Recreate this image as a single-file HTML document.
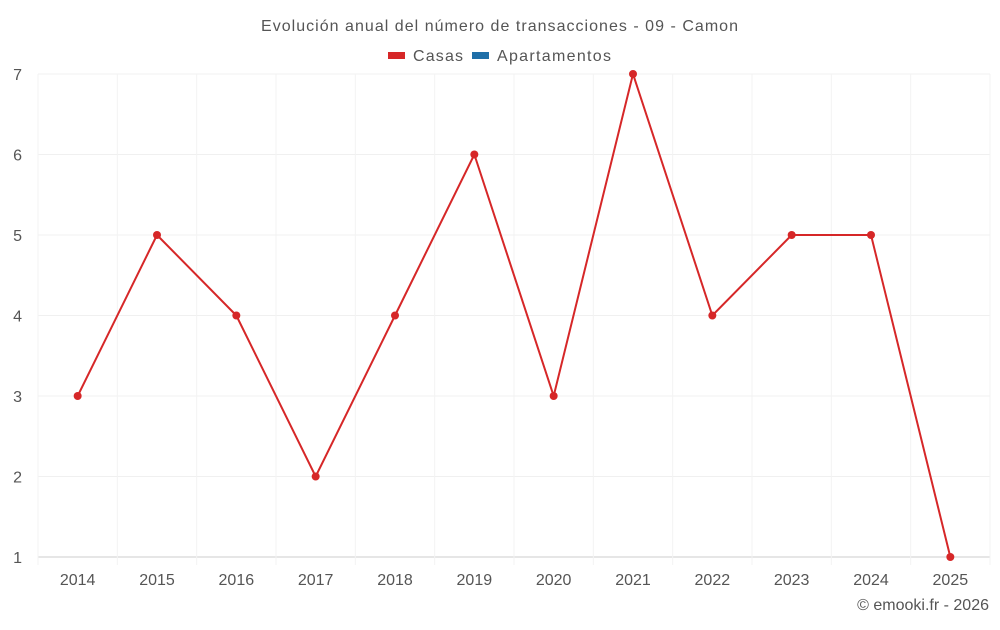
<!DOCTYPE html>
<html><head><meta charset="utf-8"><style>
body{margin:0;background:#fff;font-family:"Liberation Sans",sans-serif;}
svg text{font-family:"Liberation Sans",sans-serif;}
</style></head><body>
<svg id="c" width="1000" height="625" xmlns="http://www.w3.org/2000/svg">
<text x="261" y="31" textLength="477" font-size="16" fill="#555">Evolución anual del número de transacciones - 09 - Camon</text>
<g>
<g><rect x="388" y="52" width="17" height="7" fill="#d62728"/><text x="413" y="61" textLength="50" font-size="16" fill="#555">Casas</text></g>
<g><rect x="472" y="52" width="17" height="7" fill="#1f6fa8"/><text x="497" y="61" textLength="114" font-size="16" fill="#555">Apartamentos</text></g>
</g>
<g id="grid"></g>
<g id="axes"></g>
<g id="series"></g>
<text x="989" y="610" text-anchor="end" font-size="16" fill="#555">© emooki.fr - 2026</text>
</svg>
<script>
const categories=["2014","2015","2016","2017","2018","2019","2020","2021","2022","2023","2024","2025"];
const casas=[3,5,4,2,4,6,3,7,4,5,5,1];
const yTicks=[1,2,3,4,5,6,7];
const L=38,R=990,T=74,B=557,yMin=1,yMax=7;
const bw=(R-L)/categories.length;
const x=i=>L+bw*(i+0.5);
const y=v=>B-(v-yMin)/(yMax-yMin)*(B-T);
const NS="http://www.w3.org/2000/svg";
function mk(tag,attrs,parent,txt){const e=document.createElementNS(NS,tag);for(const k in attrs)e.setAttribute(k,attrs[k]);if(txt!==undefined)e.textContent=txt;parent.appendChild(e);return e;}
const grid=document.getElementById('grid'),axes=document.getElementById('axes'),series=document.getElementById('series');
yTicks.forEach(t=>{
 const g=mk('line',{x1:L,x2:R,y1:y(t),y2:y(t),stroke:t===yMin?'#ccc':'#f0f0f0','stroke-width':1},grid);
 
 
 const lb=mk('text',{x:22,y:y(t)+6,'text-anchor':'end','font-size':16,fill:'#555'},axes,String(t));
 
 
});
for(let i=0;i<=categories.length;i++){
 const gx=L+bw*i;
 const v=mk('line',{x1:gx,x2:gx,y1:T,y2:B+8,stroke:'#f3f3f3','stroke-width':1},grid);
 
 
}
categories.forEach((c,i)=>{
 const lb=mk('text',{x:x(i),y:585,'text-anchor':'middle','font-size':16,fill:'#555'},axes,c);
 
 
});
const pts=casas.map((v,i)=>x(i)+','+y(v)).join(' ');
const pl=mk('polyline',{points:pts,fill:'none',stroke:'#d62728','stroke-width':2},series);


casas.forEach((v,i)=>{
 const p=mk('circle',{cx:x(i),cy:y(v),r:4,fill:'#d62728'},series);
 
 
});
</script>
</body></html>
